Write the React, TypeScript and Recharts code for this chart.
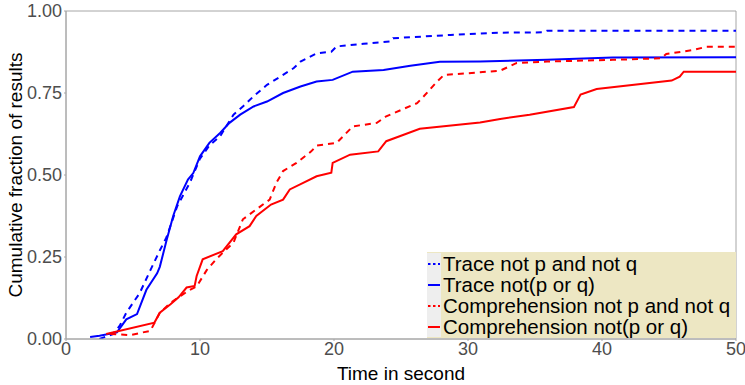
import { LineChart, Line, XAxis, YAxis, ReferenceArea } from "recharts";

// x = seconds, y = cumulative fraction
const traceAndX = [2.5, 3.5, 4.0, 4.5, 5.5, 6.3, 7.0, 7.5, 8.3, 9.25, 10.0, 10.7, 11.5, 12.5, 13.2, 14.0, 15.0, 16.0, 17.0, 17.5, 18.7, 19.8, 20.2, 22.2, 24.2, 24.4, 28.7, 32.4, 35.6, 35.9, 50];
const traceAndY = [0.0, 0.015, 0.04, 0.08, 0.14, 0.21, 0.27, 0.31, 0.405, 0.477, 0.55, 0.59, 0.618, 0.684, 0.709, 0.74, 0.775, 0.8, 0.826, 0.846, 0.871, 0.876, 0.892, 0.9, 0.907, 0.917, 0.927, 0.934, 0.935, 0.94, 0.94];

const traceOrX = [1.8, 2.5, 3.8, 4.5, 5.3, 6.0, 6.8, 7.0, 7.5, 8.0, 8.5, 9.1, 9.5, 10.0, 10.7, 11.5, 12.2, 13.0, 14.0, 15.0, 16.2, 17.5, 18.7, 19.9, 21.4, 23.7, 25.7, 27.9, 30.9, 35.9, 40.8, 50];
const traceOrY = [0.006, 0.01, 0.02, 0.06, 0.076, 0.15, 0.2, 0.22, 0.3, 0.375, 0.435, 0.486, 0.506, 0.557, 0.598, 0.628, 0.659, 0.684, 0.709, 0.724, 0.75, 0.77, 0.785, 0.79, 0.815, 0.82, 0.833, 0.845, 0.846, 0.851, 0.858, 0.859];

const compAndX = [3.3, 4.8, 6.3, 7.0, 7.8, 8.5, 9.25, 9.75, 10.5, 11.2, 11.7, 12.5, 13.2, 14.2, 15.2, 15.7, 16.2, 17.2, 18.3, 18.7, 20.2, 21.4, 23.2, 23.9, 26.2, 26.7, 27.7, 28.2, 30.9, 32.4, 33.6, 35.9, 40.8, 44.4, 44.8, 46.8, 47.8, 50];
const compAndY = [0.015, 0.012, 0.025, 0.08, 0.11, 0.13, 0.15, 0.16, 0.21, 0.243, 0.263, 0.294, 0.365, 0.395, 0.425, 0.476, 0.512, 0.537, 0.572, 0.59, 0.598, 0.648, 0.659, 0.679, 0.719, 0.74, 0.785, 0.805, 0.813, 0.818, 0.841, 0.846, 0.851, 0.856, 0.869, 0.881, 0.891, 0.891];

const compOrX = [3.0, 6.6, 7.0, 7.8, 8.4, 9.0, 9.6, 9.75, 10.2, 11.7, 12.7, 13.7, 14.2, 15.3, 16.2, 16.7, 17.7, 18.7, 19.8, 19.9, 21.2, 23.3, 23.9, 24.9, 26.4, 30.9, 32.4, 34.6, 37.9, 38.4, 39.6, 45.2, 45.8, 46.1, 50];
const compOrY = [0.015, 0.05, 0.08, 0.106, 0.127, 0.157, 0.162, 0.192, 0.243, 0.268, 0.319, 0.344, 0.375, 0.41, 0.425, 0.456, 0.476, 0.496, 0.507, 0.537, 0.562, 0.572, 0.603, 0.618, 0.641, 0.66, 0.671, 0.684, 0.707, 0.745, 0.762, 0.788, 0.8, 0.815, 0.815];

const xTicks = [0, 10, 20, 30, 40, 50];
const yTicks = [0, 0.25, 0.5, 0.75, 1];

const toPoints = (xs: number[], ys: number[]) => xs.map((x, i) => ({ x, y: ys[i] }));

const series = [
    { name: "Trace not p and not q", data: toPoints(traceAndX, traceAndY), color: "#0000ff", dash: "6 5" },
    { name: "Trace not(p or q)", data: toPoints(traceOrX, traceOrY), color: "#0000ff", dash: undefined },
    { name: "Comprehension not p and not q", data: toPoints(compAndX, compAndY), color: "#ff0000", dash: "6 5" },
    { name: "Comprehension not(p or q)", data: toPoints(compOrX, compOrY), color: "#ff0000", dash: undefined },
];

const FONT = "'Liberation Sans', Arial, sans-serif";

// legend drawn over the plot, bottom right, like the ggplot inset legend
function LegendBox() {
    return (
        <div style={{ position: "absolute", left: 427, top: 252, width: 309, height: 86, background: "#ede7c3", fontFamily: FONT, fontSize: 20.5, color: "#000", lineHeight: "21px", paddingTop: 1, boxSizing: "border-box" }}>
            {series.map((s) => (
                <div key={s.name} style={{ display: "flex", alignItems: "center", height: 21 }}>
                    <svg width={14} height={21} style={{ background: "#eeeeee", display: "block", flex: "none" }}>
                        <line x1={1} y1={11} x2={13} y2={11} stroke={s.color} strokeWidth={2} strokeDasharray={s.dash ? "2.5 2.5" : undefined} />
                    </svg>
                    <span style={{ paddingLeft: 2, whiteSpace: "nowrap" }}>{s.name}</span>
                </div>
            ))}
        </div>
    );
}

export default function App() {
    return (
        <div style={{ position: "absolute", left: 0, top: 0, width: 745, height: 385, background: "#fff" }}>
            <LineChart width={745} height={385} margin={{ top: 11, right: 9, left: 0, bottom: 0 }}>
                <XAxis
                    type="number"
                    dataKey="x"
                    domain={[0, 50]}
                    ticks={xTicks}
                    allowDataOverflow
                    height={46}
                    tickSize={2}
                    tickMargin={1}
                    stroke="#a6a6a6"
                    tick={{ fill: "#4d4d4d", fontSize: 18, fontFamily: FONT }}
                    label={{ value: "Time in second", position: "insideBottom", offset: 5, fill: "#000", fontSize: 19, fontFamily: FONT }}
                />
                <YAxis
                    type="number"
                    domain={[0, 1]}
                    ticks={yTicks}
                    allowDataOverflow
                    width={66}
                    tickSize={2}
                    tickMargin={2}
                    stroke="#a6a6a6"
                    tickFormatter={(v) => Number(v).toFixed(2)}
                    tick={{ fill: "#4d4d4d", fontSize: 18, fontFamily: FONT }}
                    label={{ value: "Cumulative fraction of results", angle: -90, position: "insideLeft", offset: 15, style: { textAnchor: "middle" }, fill: "#000", fontSize: 19, fontFamily: FONT }}
                />
                <ReferenceArea x1={0} x2={50} y1={0} y2={1} fill="none" stroke="#a6a6a6" strokeWidth={1} ifOverflow="visible" />
                {series.map((s) => (
                    <Line
                        key={s.name}
                        data={s.data}
                        dataKey="y"
                        name={s.name}
                        type="linear"
                        stroke={s.color}
                        strokeWidth={2}
                        strokeDasharray={s.dash}
                        dot={false}
                        activeDot={false}
                        isAnimationActive={false}
                    />
                ))}
            </LineChart>
            <LegendBox />
        </div>
    );
}
